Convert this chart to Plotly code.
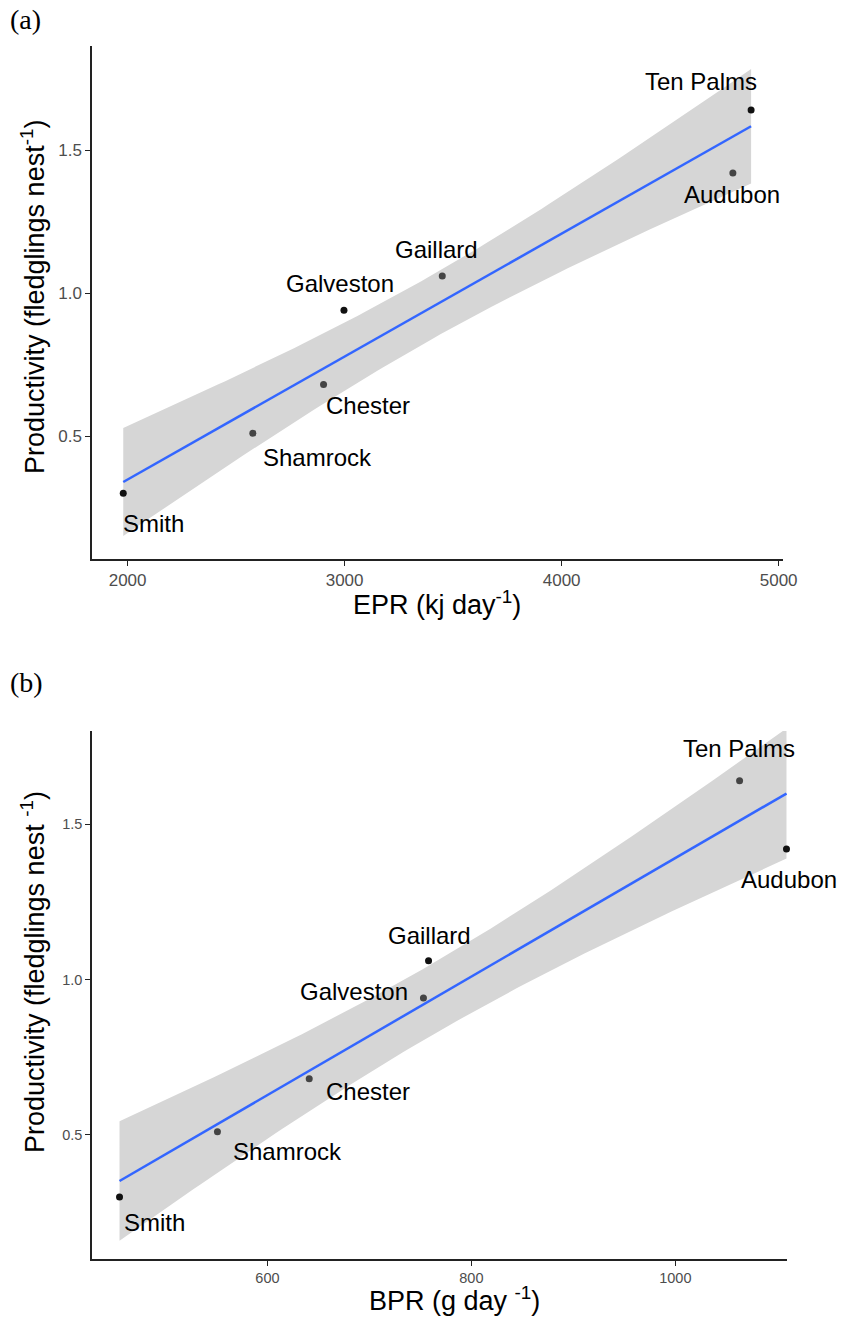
import numpy as np
import plotly.graph_objects as go

# Colony sites and their measured values
sites = ["Smith", "Shamrock", "Chester", "Galveston", "Gaillard", "Audubon", "Ten Palms"]
productivity = [0.30, 0.51, 0.68, 0.94, 1.06, 1.42, 1.64]
epr = [1980, 2577, 2903, 2997, 3450, 4789, 4873]          # kj day-1
bpr = [455, 551, 641, 753, 758, 1109, 1063]               # g day-1

# Axis ticks
epr_ticks = [2000, 3000, 4000, 5000]
bpr_ticks = [600, 800, 1000]
prod_ticks = [0.5, 1.0, 1.5]

# Styling (point shades, label offsets in px)
point_colors_a = ["#111111", "#444444", "#444444", "#111111", "#444444", "#444444", "#111111"]
point_colors_b = ["#111111", "#444444", "#444444", "#444444", "#111111", "#111111", "#444444"]
label_shift_a = {"Smith": (30, -30), "Shamrock": (65, -24), "Chester": (44, -21),
                 "Galveston": (-4, 27), "Gaillard": (-6, 26), "Audubon": (-1, -22),
                 "Ten Palms": (-50, 29)}
label_shift_b = {"Smith": (35, -26), "Shamrock": (70, -20), "Chester": (59, -13),
                 "Galveston": (-69, 7), "Gaillard": (1, 25), "Audubon": (3, -30),
                 "Ten Palms": (-1, 32)}

T_975_DF5 = 2.5706  # t quantile for a 95% interval with n-2 = 5 d.f.

W, H = 841, 1318
BAND = "rgb(214,214,214)"
LINE = "#3366FF"
AXIS_COL = "#222222"
TICK_COL = "#4D4D4D"
FONT = "Liberation Sans, Arial, sans-serif"


def lm_band(x, y, n_pts=100):
    x = np.asarray(x, float)
    y = np.asarray(y, float)
    n = len(x)
    xm = x.mean()
    sxx = ((x - xm) ** 2).sum()
    slope = ((x - xm) * (y - y.mean())).sum() / sxx
    icpt = y.mean() - slope * xm
    resid = y - (icpt + slope * x)
    s = np.sqrt((resid ** 2).sum() / (n - 2))
    xs = np.linspace(x.min(), x.max(), n_pts)
    fit = icpt + slope * xs
    se = s * np.sqrt(1.0 / n + (xs - xm) ** 2 / sxx)
    return xs, fit, fit - T_975_DF5 * se, fit + T_975_DF5 * se


fig = go.Figure()


def add_panel(xvals, colors, shifts, xa, ya):
    xs, fit, lo, hi = lm_band(xvals, productivity)
    fig.add_trace(go.Scatter(
        x=np.concatenate([xs, xs[::-1]]), y=np.concatenate([hi, lo[::-1]]),
        fill="toself", fillcolor=BAND, line=dict(width=0), mode="lines",
        hoverinfo="skip", showlegend=False, xaxis=xa, yaxis=ya))
    fig.add_trace(go.Scatter(
        x=xs, y=fit, mode="lines", line=dict(color=LINE, width=2.5),
        showlegend=False, xaxis=xa, yaxis=ya))
    fig.add_trace(go.Scatter(
        x=xvals, y=productivity, mode="markers", cliponaxis=False,
        marker=dict(size=7, color=colors), text=sites,
        showlegend=False, xaxis=xa, yaxis=ya))
    for name, xv, yv in zip(sites, xvals, productivity):
        dx, dy = shifts[name]
        fig.add_annotation(x=xv, y=yv, xref=xa, yref=ya, text=name, showarrow=False,
                           xshift=dx, yshift=dy,
                           font=dict(family=FONT, size=24, color="#000000"))


add_panel(epr, point_colors_a, label_shift_a, "x", "y")
add_panel(bpr, point_colors_b, label_shift_b, "x2", "y2")


def axis_style(domain, rng, ticks, font_size, anchor):
    return dict(domain=domain, range=rng, tickvals=ticks, automargin=False,
                ticktext=[f"{t:g}" if isinstance(t, int) else f"{t:.1f}" for t in ticks],
                showgrid=False, zeroline=False, showline=True, linecolor=AXIS_COL,
                linewidth=1.5, ticks="outside", ticklen=5, tickwidth=1.2,
                tickcolor=AXIS_COL, anchor=anchor,
                tickfont=dict(family=FONT, size=font_size, color=TICK_COL))


fig.update_layout(
    width=W, height=H, autosize=False, margin=dict(l=0, r=0, t=0, b=0, pad=0),
    paper_bgcolor="white", plot_bgcolor="white",
    xaxis=axis_style([92 / W, 783 / W], [1836, 5020], epr_ticks, 17, "y"),
    yaxis=axis_style([1 - 559 / H, 1 - 46 / H], [0.07, 1.864], prod_ticks, 17, "x"),
    xaxis2=axis_style([92 / W, 787 / W], [428, 1109.5], bpr_ticks, 14.5, "y2"),
    yaxis2=axis_style([1 - 1259 / H, 1 - 731 / H], [0.10, 1.80], prod_ticks, 14.5, "x2"),
)

# Panel tags and axis titles
title_font = dict(family=FONT, size=27, color="#000000")
tag_font = dict(family="Liberation Serif, Times New Roman, serif", size=28, color="#000000")
annos = [
    dict(text="(a)", x=8 / W, y=1 - 20 / H, xanchor="left", font=tag_font),
    dict(text="(b)", x=8 / W, y=1 - 682 / H, xanchor="left", font=tag_font),
    dict(text="EPR (kj day<sup>-1</sup>)", x=437 / W, y=1 - 603 / H, font=title_font),
    dict(text="BPR (g day <sup>-1</sup>)", x=455 / W, y=1 - 1299 / H, font=title_font),
    dict(text="Productivity (fledglings nest<sup>-1</sup>)", x=33 / W, y=1 - 297 / H,
         textangle=-90, font=title_font),
    dict(text="Productivity (fledglings nest <sup>-1</sup>)", x=33 / W, y=1 - 972 / H,
         textangle=-90, font=title_font),
]
for a in annos:
    fig.add_annotation(xref="paper", yref="paper", showarrow=False, yanchor="middle",
                       **({"xanchor": "center"} | a))

fig.write_html("out.html")
